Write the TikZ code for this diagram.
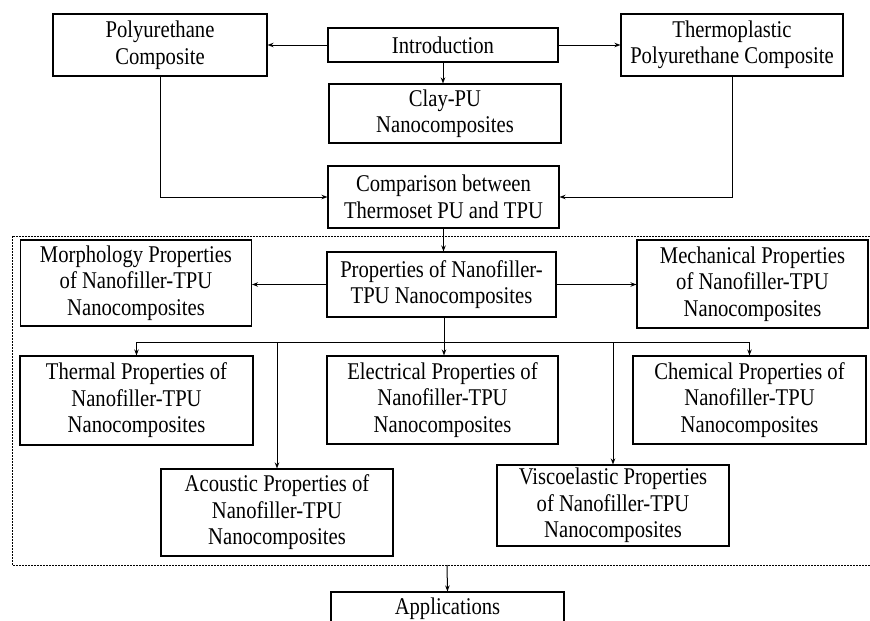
\documentclass[tikz,border=0pt]{standalone}
\usepackage{fontspec}
\setmainfont{Liberation Serif}[FakeStretch=0.86]
\usetikzlibrary{positioning,arrows.meta}

\begin{document}
\begin{tikzpicture}[x=1pt,y=-1pt,
			box/.style={draw,rectangle,line width=1.1pt,inner sep=0pt,minimum width=231pt,minimum height=88pt,align=center,
				font=\fontsize{24}{26.5}\selectfont},
			arr/.style={-{Stealth[length=6pt,width=4.5pt]},line width=1pt},
			link/.style={line width=1pt}]
			\useasboundingbox (0,0) rectangle (870,621);
			\draw [dashed,dash pattern=on 2pt off 1pt,line width=0.8pt] (12,236) rectangle (880,565);
			\coordinate (framebot) at (447,565);

			\node (intro) [box,minimum width=230pt,minimum height=34pt] at (443,45) {Introduction};
			\node (pucomp) [box,minimum width=214pt,minimum height=62pt] at (160,45) {Polyurethane\\Composite};
			\node (tpucomp) [box,minimum width=222pt,minimum height=62pt] at (732,45) {Thermoplastic\\Polyurethane Composite};
			\node (clay) [box,minimum width=232pt,minimum height=59pt] at (445,113.5) {Clay-PU\\Nanocomposites};
			\node (compare) [box,minimum height=62pt] at (443.5,197) {Comparison between\\Thermoset PU and TPU};

			\node (props) [box,minimum width=229pt,minimum height=65pt] at (441.5,284.5) {Properties of Nanofiller-\\TPU Nanocomposites};
			\node (morph) [box,minimum height=86pt] at (136,283) {Morphology Properties\\of Nanofiller-TPU\\Nanocomposites};
			\node (mech) [box] at (752.5,284) {Mechanical Properties\\of Nanofiller-TPU\\Nanocomposites};
			\node (thermal) [box,minimum width=233pt,minimum height=89pt] at (136.5,400.5) {Thermal Properties of\\Nanofiller-TPU\\Nanocomposites};
			\node (elec) [box] at (442.5,400) {Electrical Properties of\\Nanofiller-TPU\\Nanocomposites};
			\node (chem) [box,minimum width=233pt] at (749.5,400) {Chemical Properties of\\Nanofiller-TPU\\Nanocomposites};
			\node (acoustic) [box,minimum width=232pt,minimum height=87pt] at (277,512.5) {Acoustic Properties of\\Nanofiller-TPU\\Nanocomposites};
			\node (visco) [box,minimum width=232pt,minimum height=81pt] at (613,505.5) {Viscoelastic Properties\\of Nanofiller-TPU\\Nanocomposites};
			\node (apps) [box,minimum width=233pt,minimum height=34pt] at (447.5,609) {Applications};

			\draw [arr] (intro.west) -- (pucomp.east |- intro.west);
			\draw [arr] (intro.east) -- (tpucomp.west |- intro.east);
			\draw [arr] (intro.south) -- (intro.south |- clay.north);
			\draw [arr] (pucomp.south) |- (compare.west);
			\draw [arr] (tpucomp.south) |- (compare.east);
			\draw [arr] (compare.south) -- (compare.south |- props.north);
			\draw [arr] (props.west) -- (morph.east |- props.west);
			\draw [arr] (props.east) -- (mech.west |- props.east);

			\coordinate (split) at (444,342);
			\draw [link] (split -| props.south) -- (split);
			\draw [link] (props.south -| split) -- (split);
			\draw [link] (thermal.north |- split) -- (chem.north |- split);
			\draw [arr] (thermal.north |- split) -- (thermal.north);
			\draw [arr] (split) -- (split |- elec.north);
			\draw [arr] (chem.north |- split) -- (chem.north);
			\draw [arr] (acoustic.north |- split) -- (acoustic.north);
			\draw [arr] (visco.north |- split) -- (visco.north);
			\draw [arr] (framebot) -- (apps.north);
		\end{tikzpicture}
\end{document}
